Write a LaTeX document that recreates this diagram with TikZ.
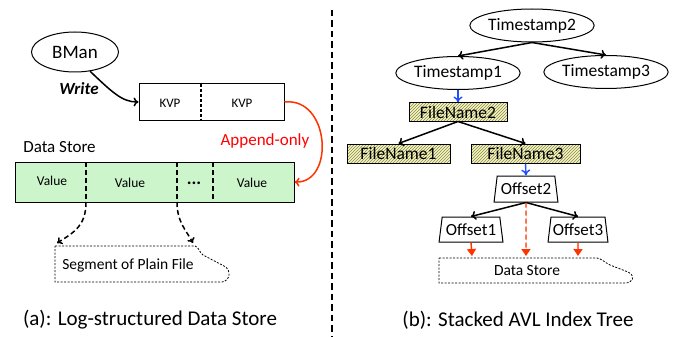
\documentclass[tikz,border=0pt]{standalone}
\usepackage{fontspec}
\setmainfont{Carlito}
\usetikzlibrary{arrows.meta,shapes.geometric,patterns}
\newcommand\fsz[1]{\fontsize{#1}{#1}\selectfont}
\definecolor{dsgreen}{HTML}{CCF5CC}
\definecolor{hatchbg}{HTML}{F4F4C8}
\definecolor{hatchfg}{HTML}{8A8A40}
\definecolor{redarr}{HTML}{FF3300}
\definecolor{bluearr}{HTML}{1F4FFF}
\begin{document}
\begin{tikzpicture}[x=1pt,y=-1pt,
  ell/.style={ellipse, draw, line width=1pt, inner sep=0pt, minimum width=112pt, minimum height=33pt, font=\fsz{17.5}},
  hatchbox/.style={draw, line width=1pt, inner sep=0pt, minimum height=19pt, preaction={fill=hatchbg}, pattern=north east lines, pattern color=hatchfg, font=\fsz{17.5}},
  trap/.style={trapezium, draw, line width=1pt, trapezium left angle=77, trapezium right angle=77, trapezium stretches=true, inner sep=0pt, minimum height=26pt, font=\fsz{17}},
  blk/.style={line width=1.5pt, -{To[length=5pt,width=9pt]}},
  blu/.style={line width=1.4pt, draw=bluearr, -{To[length=6pt,width=9pt]}},
  red/.style={line width=1.4pt, draw=redarr, -{Triangle[length=7pt,width=9pt]}, fill=redarr},
  dasharr/.style={line width=1.5pt, dash pattern=on 5pt off 3pt, -{To[length=5pt,width=8pt]}},
  lbl/.style={inner sep=0pt}
]
\useasboundingbox (0,0) rectangle (678,337);

% ---------- left part (a) ----------
\node[ell, minimum width=87pt, minimum height=40pt, font=\fsz{19}] (bman) at (75,52) {BMan};
\node[lbl, font=\fsz{17}\bfseries\itshape] (write) at (79,89) {Write};

\node[draw, line width=1pt, minimum width=145pt, minimum height=36pt, inner sep=0pt] (kvp) at (211.5,102) {};
\node[lbl, font=\fsz{13}] (kvpa) at (170,103) {KVP};
\node[lbl, font=\fsz{13}] (kvpb) at (242,103) {KVP};
\coordinate (kt) at (201,84);
\coordinate (kb) at (201,120);
\draw[line width=1.3pt, dash pattern=on 3pt off 2pt] (kt) -- (kb);

\draw[blk] (bman.-52) .. controls (112,92) and (122,102) .. (kvp.west);

\node[lbl, font=\fsz{17}] (dslabel) at (59.5,147) {Data Store};
\node[draw, line width=1pt, fill=dsgreen, minimum width=279pt, minimum height=40pt, inner sep=0pt] (ds) at (154.5,182) {};
\coordinate (d1t) at (86,162); \coordinate (d1) at (86,202);
\coordinate (d2t) at (177,162); \coordinate (d2) at (177,202);
\coordinate (d3t) at (213,162); \coordinate (d3) at (213,202);
\draw[line width=1.5pt, dash pattern=on 5pt off 3pt] (d1t) -- (d1);
\draw[line width=1.5pt, dash pattern=on 5pt off 3pt] (d2t) -- (d2);
\draw[line width=1.5pt, dash pattern=on 5pt off 3pt] (d3t) -- (d3);
\node[lbl, font=\fsz{13.5}] (v1) at (52,181) {Value};
\node[lbl, font=\fsz{13.5}] (v2) at (130,183) {Value};
\node[lbl, font=\fsz{18}\bfseries] (v3) at (194,183) {...};
\node[lbl, font=\fsz{13.5}] (v4) at (252,183) {Value};

\node[lbl, text=red, font=\fsz{17}] (app) at (265,141) {Append-only};
\draw[line width=1.5pt, draw=redarr, -{To[length=5pt,width=9pt]}] (kvp.east) .. controls (330,97) and (335,183) .. (ds.east);

% segment of plain file
\node[lbl, font=\fsz{15.5}] (seg) at (128,265) {Segment of Plain File};
\draw[line width=0.8pt, dash pattern=on 2pt off 1.5pt] (55,246) -- (195,246) .. controls (199,247) and (199,252) .. (203,255)
  -- (224,266) .. controls (232,270) and (230,281) .. (222,282) -- (55,282) -- cycle;
\coordinate (s1) at (57,243);
\coordinate (s2) at (193,243);
\draw[dasharr] (d1) .. controls (86,225) and (75,232) .. (s1);
\draw[dasharr] (d2) .. controls (177,222) and (186,230) .. (s2);

\node[lbl, font=\fsz{21}] (capa) at (150,320) {(a): Log-structured Data Store};

% divider
\coordinate (vt) at (332,10);
\coordinate (vb) at (332,337);
\draw[line width=1.6pt, dash pattern=on 6.5pt off 4pt] (vt) -- (vb);

% ---------- right part (b) ----------
\node[ell] (t2) at (532,25.5) {Timestamp2};
\node[ell] (t1) at (458,73) {Timestamp1};
\node[ell] (t3) at (606,72) {Timestamp3};
\draw[blk] (t2.south) -- (t1.north);
\draw[blk] (t2.south) -- (t3.north);

\node[hatchbox, minimum width=98pt, minimum height=18pt] (fn2) at (458,112) {FileName2};
\node[hatchbox, minimum width=103pt] (fn1) at (398.5,153.5) {FileName1};
\node[hatchbox, minimum width=109pt] (fn3) at (525.5,153.5) {FileName3};
\draw[blu] (t1.south) -- (fn2.north);
\draw[blk] (fn2.south) -- (fn1.north);
\draw[blk] (fn2.south) -- (fn3.north);

\node[trap, minimum width=64pt] (off2) at (526,189) {Offset2};
\node[trap, minimum width=64pt, minimum height=25pt] (off1) at (471,229.5) {Offset1};
\node[trap, minimum width=60pt, minimum height=25pt] (off3) at (578,229.5) {Offset3};
\draw[blu] (fn3.south) -- (off2.north);
\draw[blk] (off2.south) -- (off1.north);
\draw[blk] (off2.south) -- (off3.north);

\node[lbl, font=\fsz{15.5}] (dstore) at (527,271) {Data Store};
\draw[line width=0.8pt, dash pattern=on 2pt off 1.5pt] (439,258) -- (597,258) .. controls (602,259) and (604,262) .. (610,265)
  -- (628,272) .. controls (636,276) and (633,283) .. (625,283) -- (439,283) -- cycle;
\coordinate (r1) at (472,256);
\coordinate (r2) at (526,256);
\coordinate (r3) at (578,256);
\draw[red, dash pattern=on 5pt off 3pt] (off2.south) -- (r2);
\draw[red] (off1.south) -- (r1);
\draw[red] (off3.south) -- (r3);

\node[lbl, font=\fsz{21}] (capb) at (518,320) {(b): Stacked AVL Index Tree};
\end{tikzpicture}
\end{document}
